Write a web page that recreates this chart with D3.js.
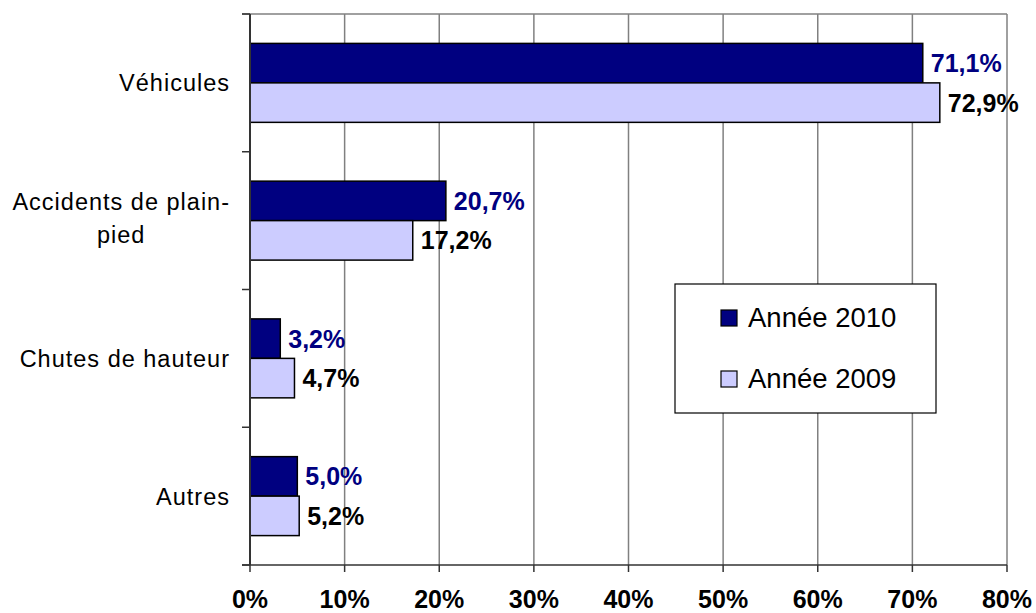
<!DOCTYPE html>
<html>
<head>
<meta charset="utf-8">
<script src="https://cdn.jsdelivr.net/npm/d3@7"></script>
<style>
  html, body { margin: 0; padding: 0; background: #fff; }
  svg { display: block; font-family: "Liberation Sans", Arial, sans-serif; }
</style>
</head>
<body>
<svg id="chart" width="1036" height="613"></svg>
<script>
const categories = [["Véhicules"], ["Accidents de plain-", "pied"], ["Chutes de hauteur"], ["Autres"]];
const series = ["Année 2010", "Année 2009"];
const values2010 = [71.1, 20.7, 3.2, 5.0];
const values2009 = [72.9, 17.2, 4.7, 5.2];
const xTicks = [0, 10, 20, 30, 40, 50, 60, 70, 80];
const colors = ["#000080", "#CCCCFF"];
const labelColors = ["#000080", "#000000"];

const svg = d3.select("#chart");
const mLeft = 250, mRight = 1007, mTop = 14, mBottom = 565;

const x = d3.scaleLinear().domain([0, 80]).range([mLeft, mRight]);
const y = d3.scaleBand().domain(d3.range(categories.length)).range([mTop, mBottom]);
const inner = d3.scaleBand().domain([0, 1]).range([29.4, y.bandwidth() - 29.4]);

// gridlines
svg.append("g").selectAll("line").data(xTicks.filter(d => d > 0)).join("line")
  .attr("x1", d => x(d)).attr("x2", d => x(d))
  .attr("y1", mTop).attr("y2", mBottom)
  .attr("stroke", "#808080").attr("stroke-width", 1.5);
// top border
svg.append("line").attr("x1", mLeft - 8).attr("x2", mRight).attr("y1", mTop).attr("y2", mTop)
  .attr("stroke", "#808080").attr("stroke-width", 1.5);

// bars
const data = categories.map((c, i) => [values2010[i], values2009[i]]);
const groups = svg.append("g").selectAll("g").data(data).join("g")
  .attr("transform", (d, i) => `translate(0,${y(i)})`);
groups.selectAll("rect").data(d => d).join("rect")
  .attr("x", x(0))
  .attr("y", (d, j) => inner(j))
  .attr("width", d => x(d) - x(0))
  .attr("height", inner.bandwidth())
  .attr("fill", (d, j) => colors[j])
  .attr("stroke", "#000").attr("stroke-width", 1.5);
groups.selectAll("text").data(d => d).join("text")
  .attr("x", d => x(d) + 8)
  .attr("y", (d, j) => inner(j) + inner.bandwidth() / 2)
  .attr("dy", "0.36em")
  .attr("font-size", 25).attr("font-weight", "bold")
  .attr("fill", (d, j) => labelColors[j])
  .text(d => d3.format(".1f")(d).replace(".", ",") + "%");

// left axis
svg.append("line").attr("x1", mLeft).attr("x2", mLeft).attr("y1", mTop).attr("y2", mBottom)
  .attr("stroke", "#333").attr("stroke-width", 2);
svg.append("g").selectAll("line").data(d3.range(categories.length + 1)).join("line")
  .attr("x1", mLeft - 8).attr("x2", mLeft)
  .attr("y1", i => mTop + i * y.bandwidth()).attr("y2", i => mTop + i * y.bandwidth())
  .attr("stroke", "#333").attr("stroke-width", 1.5);

// bottom axis
svg.append("line").attr("x1", mLeft - 8).attr("x2", mRight).attr("y1", mBottom).attr("y2", mBottom)
  .attr("stroke", "#333").attr("stroke-width", 1.5);
svg.append("g").selectAll("line").data(xTicks).join("line")
  .attr("x1", d => x(d)).attr("x2", d => x(d))
  .attr("y1", mBottom).attr("y2", mBottom + 7)
  .attr("stroke", "#333").attr("stroke-width", 1.5);
svg.append("g").selectAll("text").data(xTicks).join("text")
  .attr("x", d => x(d)).attr("y", 608)
  .attr("text-anchor", "middle")
  .attr("font-size", 25).attr("font-weight", "bold").attr("fill", "#000")
  .text(d => d + "%");

// category labels
categories.forEach((lines, i) => {
  const cy = y(i) + y.bandwidth() / 2 - (lines.length > 1 ? 2.5 : 0);
  const lh = 33;
  const g = svg.append("g");
  const texts = lines.map((l, k) => g.append("text")
    .attr("y", cy + (k - (lines.length - 1) / 2) * lh)
    .attr("dy", "0.36em")
    .attr("font-size", 23.5).attr("letter-spacing", 1)
    .attr("fill", "#000")
    .attr("text-anchor", "middle")
    .text(l));
  const maxW = d3.max(texts, t => t.node().getComputedTextLength());
  texts.forEach(t => t.attr("x", 230 - maxW / 2));
});

// legend
const lg = svg.append("g");
lg.append("rect").attr("x", 675).attr("y", 284).attr("width", 261).attr("height", 129)
  .attr("fill", "#fff").attr("stroke", "#000").attr("stroke-width", 1.2);
series.forEach((s, j) => {
  const by = 327 + j * 61;
  lg.append("rect").attr("x", 721).attr("y", by - 17).attr("width", 16).attr("height", 16)
    .attr("fill", colors[j]).attr("stroke", "#000").attr("stroke-width", 1.2);
  lg.append("text").attr("x", 748).attr("y", by)
    .attr("font-size", 27.5).attr("fill", "#000").text(s);
});
</script>
</body>
</html>
